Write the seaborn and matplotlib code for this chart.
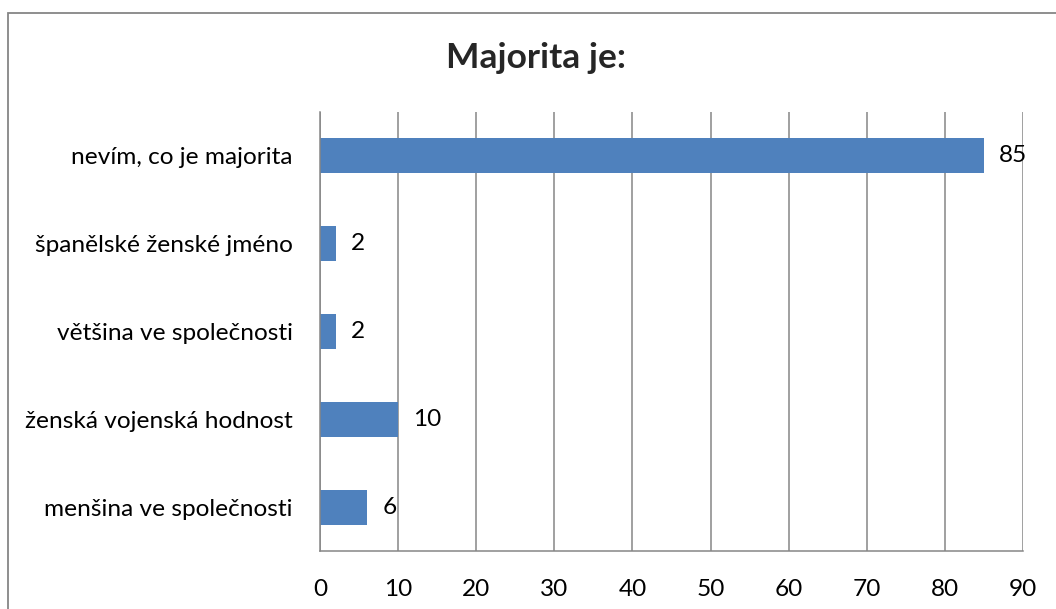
import matplotlib
matplotlib.use("Agg")
import matplotlib.pyplot as plt
import seaborn as sns
import pandas as pd
from matplotlib.patches import Rectangle

# data
categories = ["nevím, co je majorita", "španělské ženské jméno", "většina ve společnosti",
              "ženská vojenská hodnost", "menšina ve společnosti"]
values = [85, 2, 2, 10, 6]
x_ticks = [0, 10, 20, 30, 40, 50, 60, 70, 80, 90]
title = "Majorita je:"

sns.set_style("white")
plt.rcParams['font.family'] = ['Lato', 'DejaVu Sans']

grey = '#868686'
blue = '#4F81BD'
fs = 17.6

fig = plt.figure(figsize=(10.56, 6.09), dpi=100)
ax = fig.add_axes([320 / 1056, 1 - 551 / 609, 703 / 1056, 439 / 609])

df = pd.DataFrame({'kategorie': categories, 'pocet': values})
sns.barplot(data=df, x='pocet', y='kategorie', orient='h', color=blue,
            width=0.4, saturation=1, linewidth=0, ax=ax)

# value labels next to each bar
ax.bar_label(ax.containers[0], labels=[str(v) for v in values],
             padding=11, fontsize=fs, color='black')

ax.set_xlim(0, 90)
ax.set_ylim(4.5, -0.5)
ax.set_xticks(x_ticks)
ax.set_xlabel('')
ax.set_ylabel('')
ax.tick_params(axis='x', length=0, pad=20, labelsize=fs, labelcolor='black')
ax.tick_params(axis='y', length=0, pad=19.5, labelsize=fs, labelcolor='black')

ax.set_axisbelow(True)
ax.xaxis.grid(True, color=grey, linewidth=1.1)
ax.yaxis.grid(False)

for side in ['top', 'right']:
    ax.spines[side].set_visible(False)
for side in ['left', 'bottom']:
    ax.spines[side].set_color(grey)
    ax.spines[side].set_linewidth(1.1)

fig.text(536 / 1056, 1 - 58 / 609, title, ha='center', va='center',
         fontsize=25.5, fontweight='bold')

# chart area border (cut off at right and bottom like the original)
fig.patches.append(Rectangle((8 / 1056, -0.05), 1.1, 1 - 13 / 609 + 0.05,
                             transform=fig.transFigure, fill=False,
                             edgecolor=grey, linewidth=1.3))

fig.savefig('out.png', dpi=100)
